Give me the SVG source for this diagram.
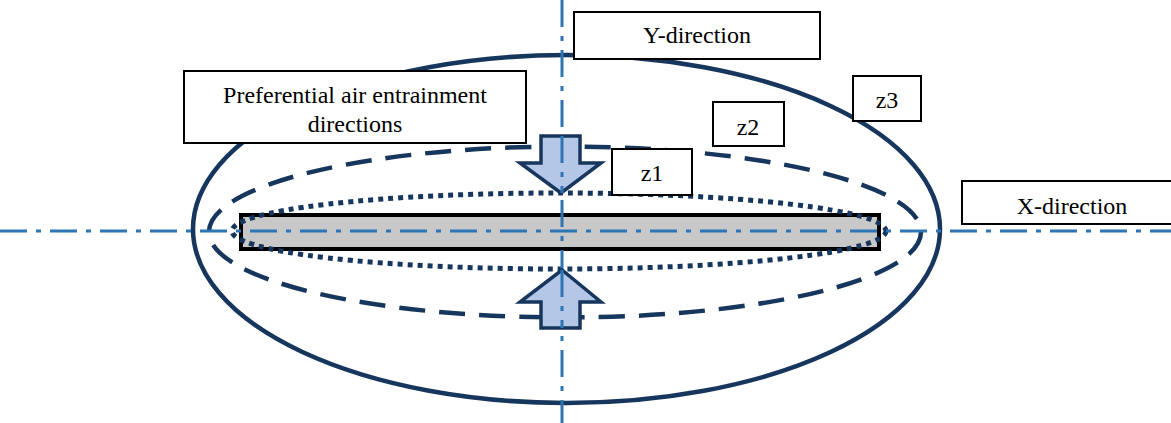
<svg xmlns="http://www.w3.org/2000/svg" width="1171" height="423" viewBox="0 0 1171 423">
<style>
.axis{stroke:#2e75b6;stroke-width:3;stroke-dasharray:27 9 5 9;fill:none}
.zone{fill:none;stroke:#17365d}
.box{fill:#fff;stroke:#000;stroke-width:2}
.lbl{font-family:"Liberation Serif","Times New Roman",serif;font-size:24px;fill:#000;text-anchor:middle}
.arr{fill:#b4c7e7;stroke:#17365d;stroke-width:3.5;stroke-linejoin:miter}
</style>
<rect width="1171" height="423" fill="#fff"/>
<g id="zone-z3"><ellipse class="zone" cx="566.5" cy="229" rx="373.5" ry="174" stroke-width="4.5"/></g>
<g id="zone-z2"><ellipse class="zone" cx="565" cy="232" rx="356" ry="85.5" stroke-width="4.5" stroke-dasharray="26 14"/></g>
<g id="plate"><rect x="241" y="215" width="638" height="34" fill="#c8c8c8" stroke="#000" stroke-width="4"/></g>
<g id="zone-z1"><ellipse class="zone" cx="559" cy="231" rx="327" ry="38" stroke-width="5" stroke-dasharray="5 5"/></g>
<g id="connectors">
<line class="axis" x1="0" y1="231" x2="1171" y2="231"/>
<line class="axis" x1="562" y1="0" x2="562" y2="423"/>
</g>
<g id="arrow-down"><path class="arr" d="M541,136 H580 V163 H601 L561,193 L520,163 H541 Z"/></g>
<g id="arrow-up"><path class="arr" d="M541,328 H580 V302 H601 L562,270 L520,302 H541 Z"/></g>
<line x1="562" y1="136" x2="562" y2="193" class="axis"/>
<line x1="562" y1="270" x2="562" y2="328" class="axis"/>
<g id="label-y"><rect class="box" x="574" y="12" width="246" height="47"/><text class="lbl" x="697" y="43">Y-direction</text></g>
<g id="label-pref"><rect class="box" x="184" y="71" width="342" height="72"/><text class="lbl" x="355" y="103">Preferential air entrainment</text><text class="lbl" x="355" y="132">directions</text></g>
<g id="label-z3"><rect class="box" x="853" y="76" width="68" height="45"/><text class="lbl" x="887" y="108">z3</text></g>
<g id="label-z2"><rect class="box" x="713" y="102" width="71" height="44"/><text class="lbl" x="748" y="135">z2</text></g>
<g id="label-z1"><rect class="box" x="612" y="149" width="80" height="46"/><text class="lbl" x="652" y="181">z1</text></g>
<g id="label-x"><rect class="box" x="962" y="181" width="215" height="43"/><text class="lbl" x="1072" y="214">X-direction</text></g>
</svg>
